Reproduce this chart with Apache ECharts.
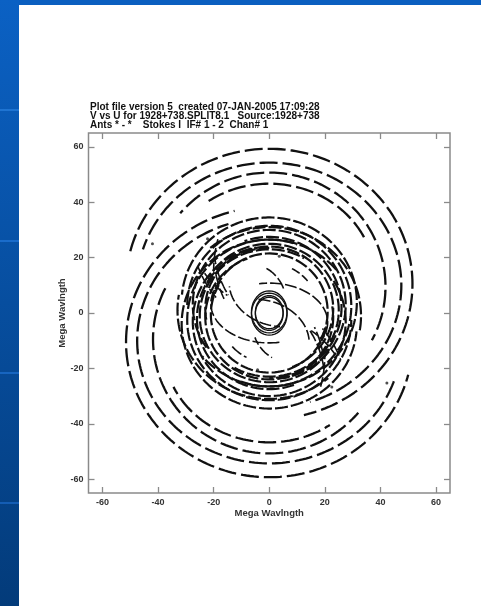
<!DOCTYPE html>
<html>
<head>
<meta charset="utf-8">
<script src="https://cdn.jsdelivr.net/npm/echarts@6/dist/echarts.min.js"></script>
<style>
  html, body { margin: 0; padding: 0; background: #ffffff; }
  #chart { width: 481px; height: 606px; }
</style>
</head>
<body>
<div id="chart"></div>
<script>
// Axis ticks (Mega Wavlngth)
const tickValues = [-60, -40, -20, 0, 20, 40, 60];

// Plot header lines
const headerLines = [
  'Plot file version 5  created 07-JAN-2005 17:09:28',
  'V vs U for 1928+738.SPLIT8.1   Source:1928+738',
  'Ants * - *    Stokes I  IF# 1 - 2  Chan# 1'
];

// UV tracks, one entry per baseline: ellipse centre (u, v), semi-axes (u, v),
// and the angular span covered (degrees, start -> end).
// Each track is also drawn with its conjugate (-u, -v).
const trackCentreU = [0,    0,    0,    0,     0,    0,    0,    0,    0,    0,    0,    0,    0,    5.6,  0,    15,   20,   10,   25,   5,    -8,   0,    0];
const trackCentreV = [10.5, 10,   9.5,  12,    4,    2.5,  3,    1,    1.5,  0.5,  2,    -1,   -3.4, 11,   0,    25,   22,   30,   15,   35,   4,    0.4,  0.3];
const trackSemiU   = [51.5, 47.5, 41.8, 38,    31.5, 29.5, 27.5, 25,   23,   21,   26,   33,   21,   20,   18,   35,   40,   38,   45,   35,   14,   6.4,  5];
const trackSemiV   = [48.8, 44.3, 41.2, 34.7,  30.5, 29,   27,   24,   22.5, 21,   25.5, 32,   14.2, 16,   18,   35,   40,   38,   45,   35,   14,   7.6,  6];
const trackStart   = [166,  163,  140,  125,   175,  180,  215,  150,  190,  170,  110,  130,  100,  185,  63,   188,  190,  200,  165,  215,  60,   90,   90];
const trackEnd     = [-76,  -72,  -28,  25,    -140, -110, -80,  -120, -70,  -30,  -90,  -10,  -35,  265,  40,   212,  205,  220,  180,  235,  20,   -270, -270];
// 0 = long outer baselines, 1 = intermediate ring, 2 = short arcs, 3 = shortest baselines
const trackGroup   = [0,    0,    0,    0,     1,    1,    1,    1,    1,    1,    1,    1,    2,    2,    2,    2,    2,    2,    2,    2,    2,    3,    3];

// isolated visibilities
const dotU = [3.6, -4.2, 22.5, -22.2, -42, 42.3];
const dotV = [20.5, -20.5, -26.7, 26.8, 25, -25.3];

const groupStyle = [
  { width: 2.3, type: [18, 5] },
  { width: 2.2, type: [13, 3] },
  { width: 1.6, type: [12, 3] },
  { width: 1.3, type: 'solid' }
];

function trackPoints(i, sign) {
  const pts = [];
  const s = trackStart[i], e = trackEnd[i];
  const n = Math.max(8, Math.ceil(Math.abs(e - s) / 1.5));
  for (let k = 0; k <= n; k++) {
    const t = (s + (e - s) * k / n) * Math.PI / 180;
    const u = trackCentreU[i] + trackSemiU[i] * Math.cos(t);
    const v = trackCentreV[i] + trackSemiV[i] * Math.sin(t);
    pts.push([sign * u, sign * v]);
  }
  return pts;
}

const series = [];
for (let i = 0; i < trackStart.length; i++) {
  [1, -1].forEach(function (sign, j) {
    const g = groupStyle[trackGroup[i]];
    series.push({
      type: 'line',
      xAxisIndex: 0,
      yAxisIndex: 0,
      data: trackPoints(i, sign),
      showSymbol: false,
      silent: true,
      lineStyle: {
        color: '#111111',
        width: g.width,
        type: g.type,
        dashOffset: (i * 7 + j * 11) % 20,
        cap: 'butt'
      },
      z: 3
    });
  });
}
series.push({
  type: 'scatter',
  xAxisIndex: 0,
  yAxisIndex: 0,
  symbolSize: 3,
  silent: true,
  itemStyle: { color: '#222222' },
  data: dotU.map(function (u, k) { return [u, dotV[k]]; }),
  z: 4
});

const labelFont = { fontFamily: 'Liberation Sans, Arial, sans-serif', fontWeight: 'bold', fontSize: 9, color: '#333333' };

function valueAxis(pos, withLabels, name) {
  const ax = {
    type: 'value',
    position: pos,
    min: -65,
    max: 65,
    splitLine: { show: false },
    axisLine: { show: false, onZero: false },
    axisTick: {
      show: true, inside: true, length: 6,
      customValues: tickValues,
      lineStyle: { color: '#8a8a8a', width: 1.3 }
    },
    axisLabel: {
      show: withLabels,
      customValues: tickValues,
      margin: 5,
      ...labelFont
    }
  };
  if (name) {
    ax.name = name;
    ax.nameLocation = 'middle';
    ax.nameMoveOverlap = false;
    ax.nameTextStyle = { ...labelFont, fontSize: 9.5, color: '#333333' };
  }
  return ax;
}

const xBottom = valueAxis('bottom', true, 'Mega Wavlngth');
xBottom.nameGap = 15;
const xTop = valueAxis('top', false);
const yLeft = valueAxis('left', true, 'Mega Wavlngth');
yLeft.nameGap = 21;
const yRight = valueAxis('right', false);

const chart = echarts.init(document.getElementById('chart'), null, { renderer: 'canvas' });
chart.setOption({
  animation: false,
  backgroundColor: '#ffffff',
  title: {
    text: headerLines.join('\n'),
    left: 90,
    top: 103,
    padding: 0,
    textStyle: {
      fontFamily: 'Liberation Sans, Arial, sans-serif',
      fontWeight: 'bold',
      fontSize: 10,
      lineHeight: 9,
      color: '#111111'
    }
  },
  grid: {
    left: 88.5,
    right: 31,
    top: 133,
    bottom: 113,
    show: true,
    borderColor: '#8a8a8a',
    borderWidth: 1.5,
    backgroundColor: '#ffffff',
    containLabel: false
  },
  xAxis: [xBottom, xTop],
  yAxis: [yLeft, yRight],
  graphic: [
    {
      type: 'rect', left: 0, top: 0, z: 10,
      shape: { width: 481, height: 5 },
      style: { fill: '#0b5fc0' }
    },
    {
      type: 'rect', left: 0, top: 0, z: 10,
      shape: { width: 19, height: 606 },
      style: {
        fill: new echarts.graphic.LinearGradient(0, 0, 0, 1, [
          { offset: 0, color: '#0b61c4' },
          { offset: 1, color: '#033b7a' }
        ])
      }
    },
    { type: 'rect', left: 0, top: 109, z: 11, shape: { width: 19, height: 2 }, style: { fill: '#1f74d2' } },
    { type: 'rect', left: 0, top: 240, z: 11, shape: { width: 19, height: 2 }, style: { fill: '#1a6ccb' } },
    { type: 'rect', left: 0, top: 372, z: 11, shape: { width: 19, height: 2 }, style: { fill: '#1765c0' } },
    { type: 'rect', left: 0, top: 502, z: 11, shape: { width: 19, height: 2 }, style: { fill: '#145db4' } }
  ],
  series: series
});
</script>
</body>
</html>
